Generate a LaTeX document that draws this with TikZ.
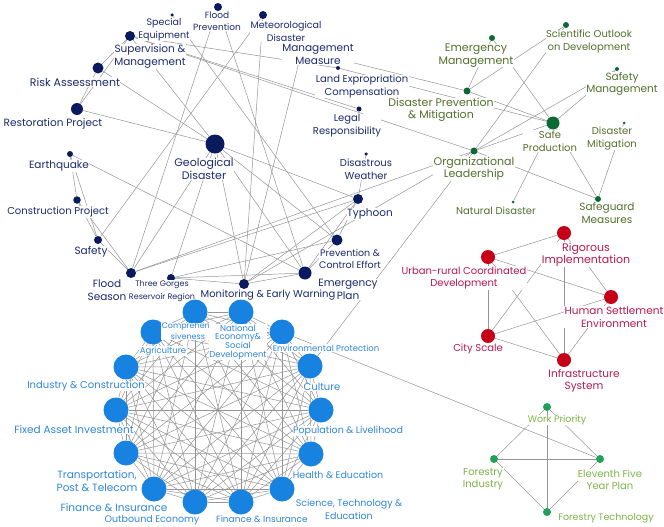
\documentclass[tikz,border=0pt]{standalone}
\usepackage{fontspec}
\setmainfont{Poppins}
\usetikzlibrary{backgrounds}
\definecolor{navydot}{HTML}{0A1A5E}
\definecolor{navytext}{HTML}{1C2A6E}
\definecolor{greendot}{HTML}{0B6A34}
\definecolor{greentext}{HTML}{52702C}
\definecolor{reddot}{HTML}{C70019}
\definecolor{redtext}{HTML}{B8184C}
\definecolor{bluedot}{HTML}{1882E0}
\definecolor{bluetext}{HTML}{2F86DA}
\definecolor{forestdot}{HTML}{23A057}
\definecolor{foresttext}{HTML}{7FB347}
\definecolor{edgegray}{HTML}{959595}
\tikzset{
  edge/.style={draw=edgegray, line width=0.5pt},
  dot/.style={circle, inner sep=0pt, minimum size=#1},
  ndot/.style={dot=#1, fill=navydot},
  gdot/.style={dot=#1, fill=greendot},
  rdot/.style={dot=14pt, fill=reddot},
  bdot/.style={dot=25pt, fill=bluedot},
  fdot/.style={dot=8pt, fill=forestdot},
  sz/.style={font=\fontsize{#1}{12.5}\selectfont},
  tag/.style={fill=white, inner sep=0.4pt, align=center},
  ntag/.style={tag, text=navytext, sz=#1},
  gtag/.style={tag, text=greentext, sz=#1},
  rtag/.style={tag, text=redtext, sz=#1},
  btag/.style={tag, text=bluetext, sz=#1},
  ftag/.style={tag, text=foresttext, sz=#1}
}
\begin{document}
\begin{tikzpicture}[x=1pt, y=-1pt]
\useasboundingbox (0,0) rectangle (664,527);

% geological disaster cluster
\node[ndot=3.5pt] (speq) at (172,15) {};
\node[ndot=10pt] (supv) at (130,36) {};
\node[ndot=11pt] (risk) at (98,68) {};
\node[ndot=12pt] (resto) at (77,109) {};
\node[ndot=8pt] (fprev) at (218,7) {};
\node[ndot=8pt] (meteo) at (263,15) {};
\coordinate (mmeas) at (302,50);
\node[ndot=4pt] (landx) at (338,68) {};
\node[ndot=5pt] (legal) at (359,109) {};
\node[ndot=19pt] (geo) at (215,144) {};
\node[ndot=3.5pt] (dweath) at (366,154) {};
\node[ndot=6pt] (quake) at (70,154) {};
\node[ndot=7.5pt] (constr) at (77,200) {};
\node[ndot=8pt] (safety) at (98,240) {};
\node[ndot=10pt] (fseason) at (131,273) {};
\node[ndot=8pt] (tgorges) at (171,278) {};
\node[ndot=10pt] (monit) at (244,284) {};
\node[ndot=13pt] (emerg) at (305,273) {};
\node[ndot=11pt] (prevc) at (337,240) {};
\node[ndot=10pt] (typh) at (358,199) {};

\node[ntag=9.5] (speq-t) at (164,29.5) {Special\\Equipment};
\node[ntag=10.5] (supv-t) at (150,56.5) {Supervision \&\\Management};
\node[ntag=11] (risk-t) at (75,82) {Risk Assessment};
\node[ntag=10.5] (resto-t) at (53,124) {Restoration Project};
\node[ntag=9] (fprev-t) at (217,21) {Flood\\Prevention};
\node[ntag=9.5] (meteo-t) at (286,31.5) {Meteorological\\Disaster};
\node[ntag=10.5] (mmeas-t) at (318,54.5) {Management\\Measure};
\node[ntag=10] (landx-t) at (362,86.5) {Land Expropriation\\Compensation};
\node[ntag=10] (legal-t) at (347,125.5) {Legal\\Responsibility};
\node[ntag=11] (geo-t) at (204,169) {Geological\\Disaster};
\node[ntag=10] (dweath-t) at (366,169) {Disastrous\\Weather};
\node[ntag=10.5] (typh-t) at (370,214) {Typhoon};
\node[ntag=9.5] (prevc-t) at (350,259) {Prevention \&\\Control Effort};
\node[ntag=10.5] (emerg-t) at (348,289.5) {Emergency\\Plan};
\node[ntag=10] (monit-t) at (268,295) {Monitoring \& Early Warning};
\node[ntag=8] (tgorges-t) at (162,291) {Three Gorges\\Reservoir Region};
\node[ntag=10.5] (fseason-t) at (107,290) {Flood\\Season};
\node[ntag=10.5] (safety-t) at (91,252) {Safety};
\node[ntag=10] (constr-t) at (58,212) {Construction Project};
\node[ntag=10.5] (quake-t) at (59,166) {Earthquake};

% safe production cluster
\node[gdot=6pt] (sci) at (566,25) {};
\node[gdot=6pt] (emgm) at (492,38) {};
\node[gdot=4pt] (safem) at (617,69) {};
\node[gdot=7pt] (dpm) at (467,91) {};
\node[gdot=13pt] (safep) at (553,123) {};
\node[gdot=3pt] (dmit) at (624,123) {};
\node[gdot=7pt] (org) at (474,151) {};
\node[gdot=3pt] (natd) at (513,202) {};
\node[gdot=6pt] (safeg) at (598,199) {};

\node[gtag=10] (sci-t) at (589,41.5) {Scientific Outlook\\on Development};
\node[gtag=11] (emgm-t) at (476,55.5) {Emergency\\Management};
\node[gtag=10.5] (safem-t) at (622,84) {Safety\\Management};
\node[gtag=11] (dpm-t) at (441,110) {Disaster Prevention\\\& Mitigation};
\node[gtag=10] (safep-t) at (550,141) {Safe\\Production};
\node[gtag=10] (dmit-t) at (612,138.5) {Disaster\\Mitigation};
\node[gtag=11] (org-t) at (474,168.5) {Organizational\\Leadership};
\node[gtag=10] (natd-t) at (496,211) {Natural Disaster};
\node[gtag=10.5] (safeg-t) at (607,213) {Safeguard\\Measures};

% urban construction cluster
\node[rdot] (rig) at (564,233) {};
\node[rdot] (urb) at (488,257) {};
\node[rdot] (hum) at (611,297) {};
\node[rdot] (city) at (488,336) {};
\node[rdot] (infra) at (564,360) {};

\node[rtag=11] (rig-t) at (586,254.5) {Rigorous\\Implementation};
\node[rtag=10] (urb-t) at (464,278) {Urban-rural Coordinated\\Development};
\node[rtag=10.5] (hum-t) at (614,317) {Human Settlement\\Environment};
\node[rtag=10] (city-t) at (478,349) {City Scale};
\node[rtag=10.5] (infra-t) at (584,381) {Infrastructure\\System};

% statistics cluster
\node[bdot] (comp) at (195,312) {};
\node[bdot] (natl) at (241,312) {};
\node[bdot] (envp) at (282,332) {};
\node[bdot] (cult) at (310,366) {};
\node[bdot] (popl) at (321,410) {};
\node[bdot] (hlth) at (311,454) {};
\node[bdot] (scit) at (282,489) {};
\node[bdot] (finr) at (241,502) {};
\node[bdot] (outb) at (195,502) {};
\node[bdot] (finl) at (154,489) {};
\node[bdot] (trans) at (126,453) {};
\node[bdot] (fixd) at (116,410) {};
\node[bdot] (indc) at (126,367) {};
\node[bdot] (agri) at (153,332) {};

\node[btag=8, font=\fontsize{8}{11}\selectfont] (comp-t) at (188,331.5) {Comprehen-\\siveness};
\node[btag=8.5, font=\fontsize{8.5}{8.7}\selectfont] (natl-t) at (238,342) {National\\Economy\&\\Social\\Development};
\node[btag=8.5] (envp-t) at (326,348) {Environmental Protection};
\node[btag=10] (cult-t) at (322,387) {Culture};
\node[btag=9.5] (popl-t) at (348,431) {Population \& Livelihood};
\node[btag=9.5] (hlth-t) at (338,475) {Health \& Education};
\node[btag=9.5] (scit-t) at (349,509.5) {Science, Technology \&\\Education};
\node[btag=9] (finr-t) at (262,519) {Finance \& Insurance};
\node[btag=9.5] (outb-t) at (152,520) {Outbound Economy};
\node[btag=10.5] (finl-t) at (114,508) {Finance \& Insurance};
\node[btag=10.5] (trans-t) at (97,481) {Transportation,\\Post \& Telecom};
\node[btag=10.5] (fixd-t) at (74,430) {Fixed Asset Investment};
\node[btag=10] (indc-t) at (86,386) {Industry \& Construction};
\node[btag=8.5] (agri-t) at (163,351) {Agriculture};

% forestry cluster
\node[fdot] (wp) at (547,407) {};
\node[fdot] (fi) at (494,459) {};
\node[fdot] (ef) at (600,459) {};
\node[fdot] (ft) at (547,512) {};

\node[ftag=9.5] (wp-t) at (557,420) {Work Priority};
\node[ftag=10] (fi-t) at (483,479.5) {Forestry\\Industry};
\node[ftag=10] (ef-t) at (610,479.5) {Eleventh Five\\Year Plan};
\node[ftag=9.5] (ft-t) at (606,518) {Forestry Technology};

\begin{scope}[on background layer]
\fill[white] (0,0) rectangle (664,527);
\foreach \a/\b in {resto/risk, risk/supv, resto/supv, risk/geo, resto/geo, supv/geo,
  supv/legal, supv/landx, supv/org, mmeas/dpm, mmeas/monit, fprev/fseason, fprev/emerg,
  meteo/monit, meteo/safety, speq/prevc, quake/constr, quake/safety, quake/emerg,
  constr/safety, constr/fseason, safety/fseason, fseason/geo, fseason/typh, fseason/org,
  tgorges/geo, tgorges/emerg, tgorges/prevc, tgorges/monit, geo/typh, geo/prevc,
  geo/emerg, geo/monit, typh/dweath, typh/emerg, typh/prevc, prevc/emerg, monit/typh,
  monit/emerg, monit/org}
  \draw[edge] (\a) -- (\b);
\foreach \a/\b in {emgm/dpm, dpm/sci, emgm/safep, sci/org, safem/org, safem/safep,
  dpm/safep, landx/safep, org/safep, org/safeg, safep/safeg, safep/natd, dmit/safeg,
  org/cult, envp/ef}
  \draw[edge] (\a) -- (\b);
\foreach \a/\b in {rig/urb, rig/hum, rig/city, rig/infra, urb/hum, urb/city, urb/infra,
  hum/city, hum/infra, city/infra, wp/fi, wp/ef, wp/ft, fi/ef, fi/ft, ef/ft}
  \draw[edge] (\a) -- (\b);
\foreach \a [count=\i] in {comp,natl,envp,cult,popl,hlth,scit,finr,outb,finl,trans,fixd,indc,agri}
  \foreach \b [count=\j] in {comp,natl,envp,cult,popl,hlth,scit,finr,outb,finl,trans,fixd,indc,agri}
    {\ifnum\j>\i \draw[edge] (\a) -- (\b); \fi}
\end{scope}
\end{tikzpicture}
\end{document}
